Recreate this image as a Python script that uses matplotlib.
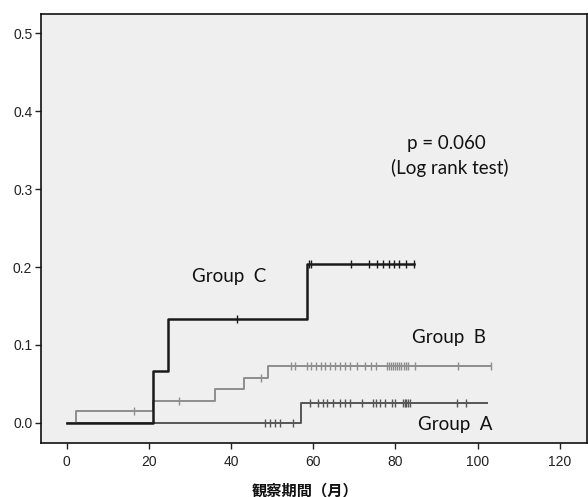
import numpy as np
import matplotlib
matplotlib.use("Agg")
import matplotlib.pyplot as plt

# ---- data ----
c_event_times = [21.0, 24.7, 58.4]
c_event_values = [0.066, 0.133, 0.204]
c_censor_times = [41.5, 59.0, 59.6, 69.3, 73.5, 75.6, 77.0, 78.5, 79.6, 80.9, 82.5, 84.5]
c_end = 84.5

b_event_times = [2.3, 21.0, 36.1, 43.2, 49.0]
b_event_values = [0.015, 0.028, 0.043, 0.058, 0.073]
b_censor_times = [16.4, 27.4, 47.4, 54.7, 55.5, 58.4, 59.6, 60.8, 62.0, 62.8, 64.1, 65.3,
                  66.5, 67.7, 68.9, 70.6, 72.6, 74.2, 75.4, 78.0, 78.5, 79.0, 79.5, 80.0,
                  80.5, 81.0, 81.5, 82.0, 82.5, 83.0, 84.7, 95.3, 103.4]
b_end = 103.4

a_event_times = [57.0]
a_event_values = [0.025]
a_censor_times = [48.3, 49.5, 50.7, 52.0, 55.0, 59.2, 61.2, 62.4, 63.3, 64.9, 66.5, 67.7,
                  68.9, 71.8, 74.6, 75.4, 76.2, 77.5, 79.1, 79.9, 81.9, 82.3, 82.7, 83.1,
                  83.5, 94.9, 97.3]
a_end = 102.2

x_ticks = [0, 20, 40, 60, 80, 100, 120]
y_ticks = [0.0, 0.1, 0.2, 0.3, 0.4, 0.5]
x_label = "観察期間（月）"

fig = plt.figure(figsize=(5.88, 4.97), dpi=100)
ax = fig.add_axes([0.0692, 0.1087, 0.9288, 0.8631])
ax.set_facecolor("#efefef")

groups = [
    (a_event_times, a_event_values, a_censor_times, a_end, "#555555", 1.4),
    (b_event_times, b_event_values, b_censor_times, b_end, "#8e8e8e", 1.4),
    (c_event_times, c_event_values, c_censor_times, c_end, "#1a1a1a", 1.8),
]
for ev_t, ev_v, cen_t, end, col, lw in groups:
    xs = [0.0] + list(ev_t) + [end]
    ys = [0.0] + list(ev_v) + [ev_v[-1]]
    ax.step(xs, ys, where="post", color=col, lw=lw, zorder=3)
    et = np.array(ev_t)
    ev = np.array([0.0] + list(ev_v))
    idx = np.searchsorted(et, np.array(cen_t), side="right")
    ax.plot(cen_t, ev[idx], linestyle="none", marker="|", markersize=6,
            markeredgewidth=1.0, color=col, zorder=4)

tfont = dict(family=["Lato", "DejaVu Sans"], fontsize=13.5, color="#111111")
ax.text(39.5, 0.1876, "Group  C", ha="center", va="center", **tfont)
ax.text(93.1, 0.1097, "Group  B", ha="center", va="center", **tfont)
ax.text(94.5, -0.0017, "Group  A", ha="center", va="center", **tfont)
ax.text(92.5, 0.359, "p = 0.060", ha="center", va="center", **tfont)
ax.text(93.3, 0.327, "(Log rank test)", ha="center", va="center", **tfont)

ax.set_xlim(-6.3, 126.6)
ax.set_ylim(-0.026, 0.525)
ax.set_xticks(x_ticks)
ax.set_yticks(y_ticks)
ax.set_xticklabels([str(t) for t in x_ticks])
ax.set_yticklabels([f"{t:.1f}" for t in y_ticks])
ax.tick_params(direction="out", length=4, width=1, colors="#222222", labelsize=10)
for lab in ax.get_xticklabels() + ax.get_yticklabels():
    lab.set_family(["Liberation Sans", "DejaVu Sans"])
ax.tick_params(axis="x", pad=5)
ax.tick_params(axis="y", pad=2)
for s in ax.spines.values():
    s.set_color("#111111")
    s.set_linewidth(1.2)

fig.text(305 / 588, 1 - 490 / 497, x_label, ha="center", va="center",
         family=["Noto Sans CJK JP", "DejaVu Sans"], fontsize=11, fontweight="bold",
         color="#111111")

fig.savefig("out.png", dpi=100)
